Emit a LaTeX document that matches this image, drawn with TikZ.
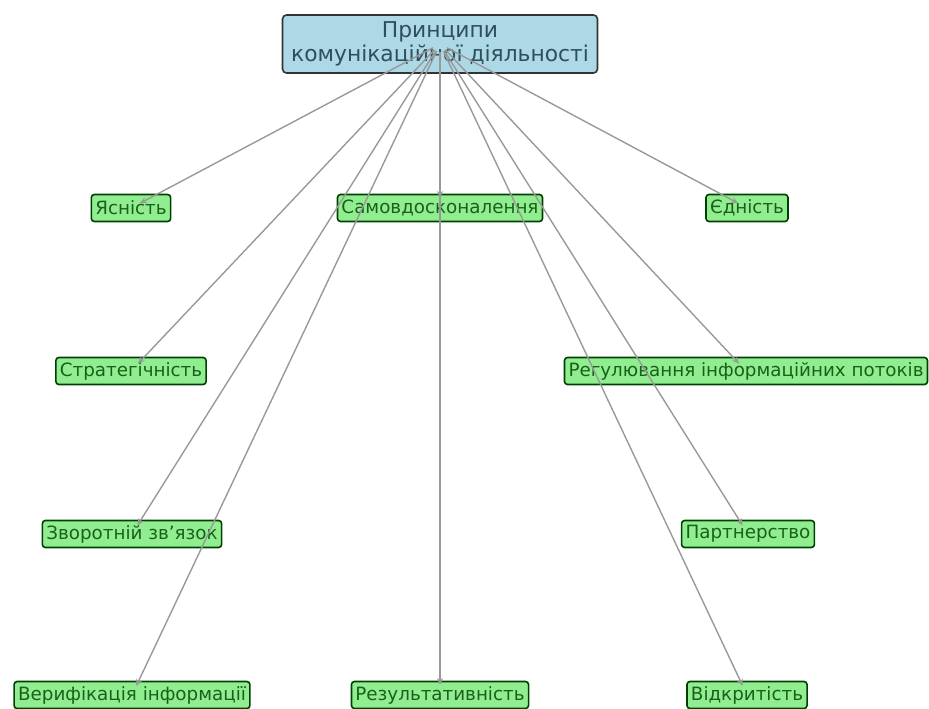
\documentclass[tikz,border=0pt]{standalone}
\usepackage{fontspec}
\setmainfont{DejaVu Sans}
\usetikzlibrary{arrows.meta}
\definecolor{leaf}{HTML}{90EE90}
\definecolor{rootfill}{HTML}{ADD8E6}
\definecolor{leaftext}{HTML}{1A601A}
\definecolor{roottext}{HTML}{2F4F5A}
\definecolor{edgec}{HTML}{999999}
\begin{document}
\begin{tikzpicture}[x=1pt,y=-1pt,
 leafbox/.style={draw=black!75!green, line width=1.6pt, fill=leaf, rounded corners=3pt, text=leaftext,
   font=\fontsize{18.3}{21}\selectfont, inner xsep=4pt, inner ysep=2pt, minimum height=27pt},
 rootbox/.style={draw=black!80, line width=1.6pt, fill=rootfill, rounded corners=4pt, text=roottext,
   font=\fontsize{21.8}{24}\selectfont, align=center, inner xsep=5pt, minimum height=58pt, minimum width=315pt},
 link/.style={draw=edgec, line width=1.4pt, -{Stealth[length=7pt,width=6pt]}, shorten >=10pt, shorten <=8pt}]
\useasboundingbox (0,0) rectangle (929,709);
\node[rootbox] (root) at (440,44) {Принципи\\комунікаційної діяльності};
\node[leafbox] (yas) at (131,208) {Ясність};
\node[leafbox] (sam) at (440,208) {Самовдосконалення};
\node[leafbox] (yed) at (747,208) {Єдність};
\node[leafbox] (str) at (131,371) {Стратегічність};
\node[leafbox] (reg) at (746,371) {Регулювання інформаційних потоків};
\node[leafbox] (zvo) at (132,534) {Зворотній зв’язок};
\node[leafbox] (par) at (748,534) {Партнерство};
\node[leafbox] (ver) at (132,695) {Верифікація інформації};
\node[leafbox] (rez) at (440,695) {Результативність};
\node[leafbox] (vid) at (747,695) {Відкритість};
\foreach \t in {yas,sam,yed,str,reg,zvo,par,ver,rez,vid}
  \draw[link] (root.center) -- (\t.center);
\end{tikzpicture}
\end{document}
